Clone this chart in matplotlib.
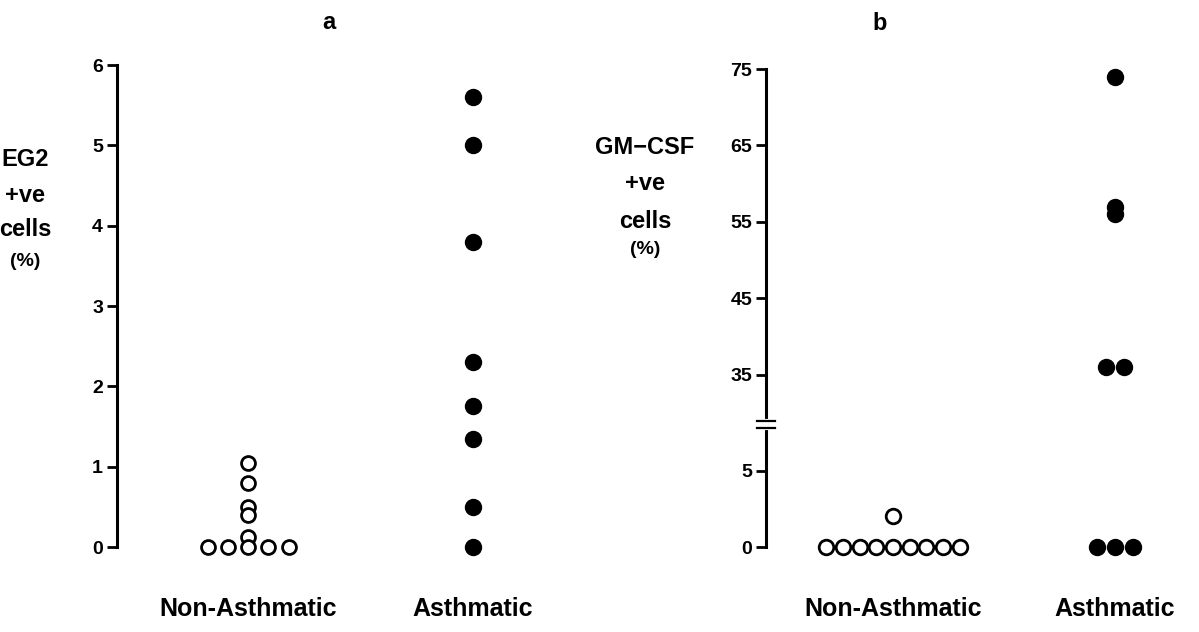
import numpy as np
import matplotlib.pyplot as plt

plt.rcParams['font.family'] = ['Liberation Sans', 'DejaVu Sans']
plt.rcParams['font.weight'] = 'bold'

## Data
groups = ['Non-Asthmatic', 'Asthmatic']

# panel a: EG2 +ve cells (%)
eg2_non = [1.05, 0.8, 0.5, 0.4, 0.12, 0, 0, 0, 0, 0]
eg2_ast = [5.6, 5.0, 3.8, 2.3, 1.75, 1.35, 0.5, 0]
eg2_ticks = [0, 1, 2, 3, 4, 5, 6]

# panel b: GM-CSF +ve cells (%)
gm_non = [2, 0, 0, 0, 0, 0, 0, 0, 0, 0]
gm_ast = [74, 57, 56, 36, 36, 0, 0, 0]
gm_ticks = [0, 5, 35, 45, 55, 65, 75]

## broken y scale for panel b (0-8 stretched x2, gap, 28.5-75)
lo_top, hi_bot = 8.0, 28.5

def fwd(v):
    v = np.asarray(v, dtype=float)
    return np.where(v <= lo_top, 2*v,
                    np.where(v >= hi_bot, 2*lo_top + v - hi_bot, 2*lo_top))

def inv(u):
    u = np.asarray(u, dtype=float)
    return np.where(u <= 2*lo_top, u/2, u - 2*lo_top + hi_bot)

def spread(vals, step):
    # put equal values side by side
    vals = np.asarray(vals, dtype=float)
    off = np.zeros(len(vals))
    for v in np.unique(vals):
        idx = np.where(vals == v)[0]
        off[idx] = (np.arange(len(idx)) - (len(idx)-1)/2.0) * step
    return off

def style_axis(ax, ticks):
    for s in ['top', 'right', 'bottom']:
        ax.spines[s].set_visible(False)
    ax.spines['left'].set_linewidth(2.2)
    ax.set_yticks(ticks)
    ax.set_yticklabels([str(t) for t in ticks], fontsize=14, fontweight='bold')
    ax.tick_params(axis='y', direction='out', length=7, width=2, pad=3)
    ax.set_xticks([0, 1])
    ax.set_xticklabels(groups, fontsize=18, fontweight='bold')
    ax.tick_params(axis='x', length=0, pad=36)

fig = plt.figure(figsize=(11.99, 6.32), dpi=100)

## Panel a
ax1 = fig.add_axes([117/1199, 85/632, 423/1199, 482/632])
ax1.plot(0 + spread(eg2_non, 0.09), eg2_non, 'o', mfc='white', mec='black',
         mew=2.0, ms=10, clip_on=False, zorder=3)
ax1.plot(1 + spread(eg2_ast, 0.09), eg2_ast, 'o', color='black', ms=11.5,
         clip_on=False, zorder=3)
ax1.set_ylim(0, 6)
ax1.set_xlim(-131/225, 292/225)
style_axis(ax1, eg2_ticks)
ax1.set_title('a', fontsize=17, fontweight='bold', pad=26)

for txt, yy in zip(['EG2', '+ve', 'cells'], [159, 196, 230]):
    fig.text(25/1199, 1 - yy/632, txt, fontsize=17, ha='center', va='center')
fig.text(25/1199, 1 - 262/632, '(%)', fontsize=14, ha='center', va='center')

## Panel b
ax2 = fig.add_axes([766/1199, 85/632, 424/1199, 478/632])
ax2.set_yscale('function', functions=(fwd, inv))
ax2.plot(0 + spread(gm_non, 0.075), gm_non, 'o', mfc='white', mec='black',
         mew=2.0, ms=10.5, clip_on=False, zorder=3)
ax2.plot(1 + spread(gm_ast, 0.082), gm_ast, 'o', color='black', ms=11.5,
         clip_on=False, zorder=3)
ax2.set_ylim(0, 75)
ax2.set_xlim(-127/222, 297/222)
style_axis(ax2, gm_ticks)
ax2.set_title('b', fontsize=17, fontweight='bold', pad=28, x=(880-766)/424)

# axis break mark
yb = float(fwd(lo_top) / fwd(75))
ax2.plot([0, 0], [yb - 0.007, yb + 0.007], color='white', lw=3,
         transform=ax2.transAxes, clip_on=False, zorder=5)
for dy in [-0.007, 0.007]:
    ax2.plot([-0.021, 0.021], [yb + dy, yb + dy], color='black', lw=1.6,
             transform=ax2.transAxes, clip_on=False, zorder=6)

for txt, yy in zip(['GM\u2212CSF', '+ve', 'cells'], [147, 184, 222]):
    fig.text(645/1199, 1 - yy/632, txt, fontsize=17, ha='center', va='center')
fig.text(645/1199, 1 - 250/632, '(%)', fontsize=14, ha='center', va='center')

fig.savefig('out.png', dpi=100)
